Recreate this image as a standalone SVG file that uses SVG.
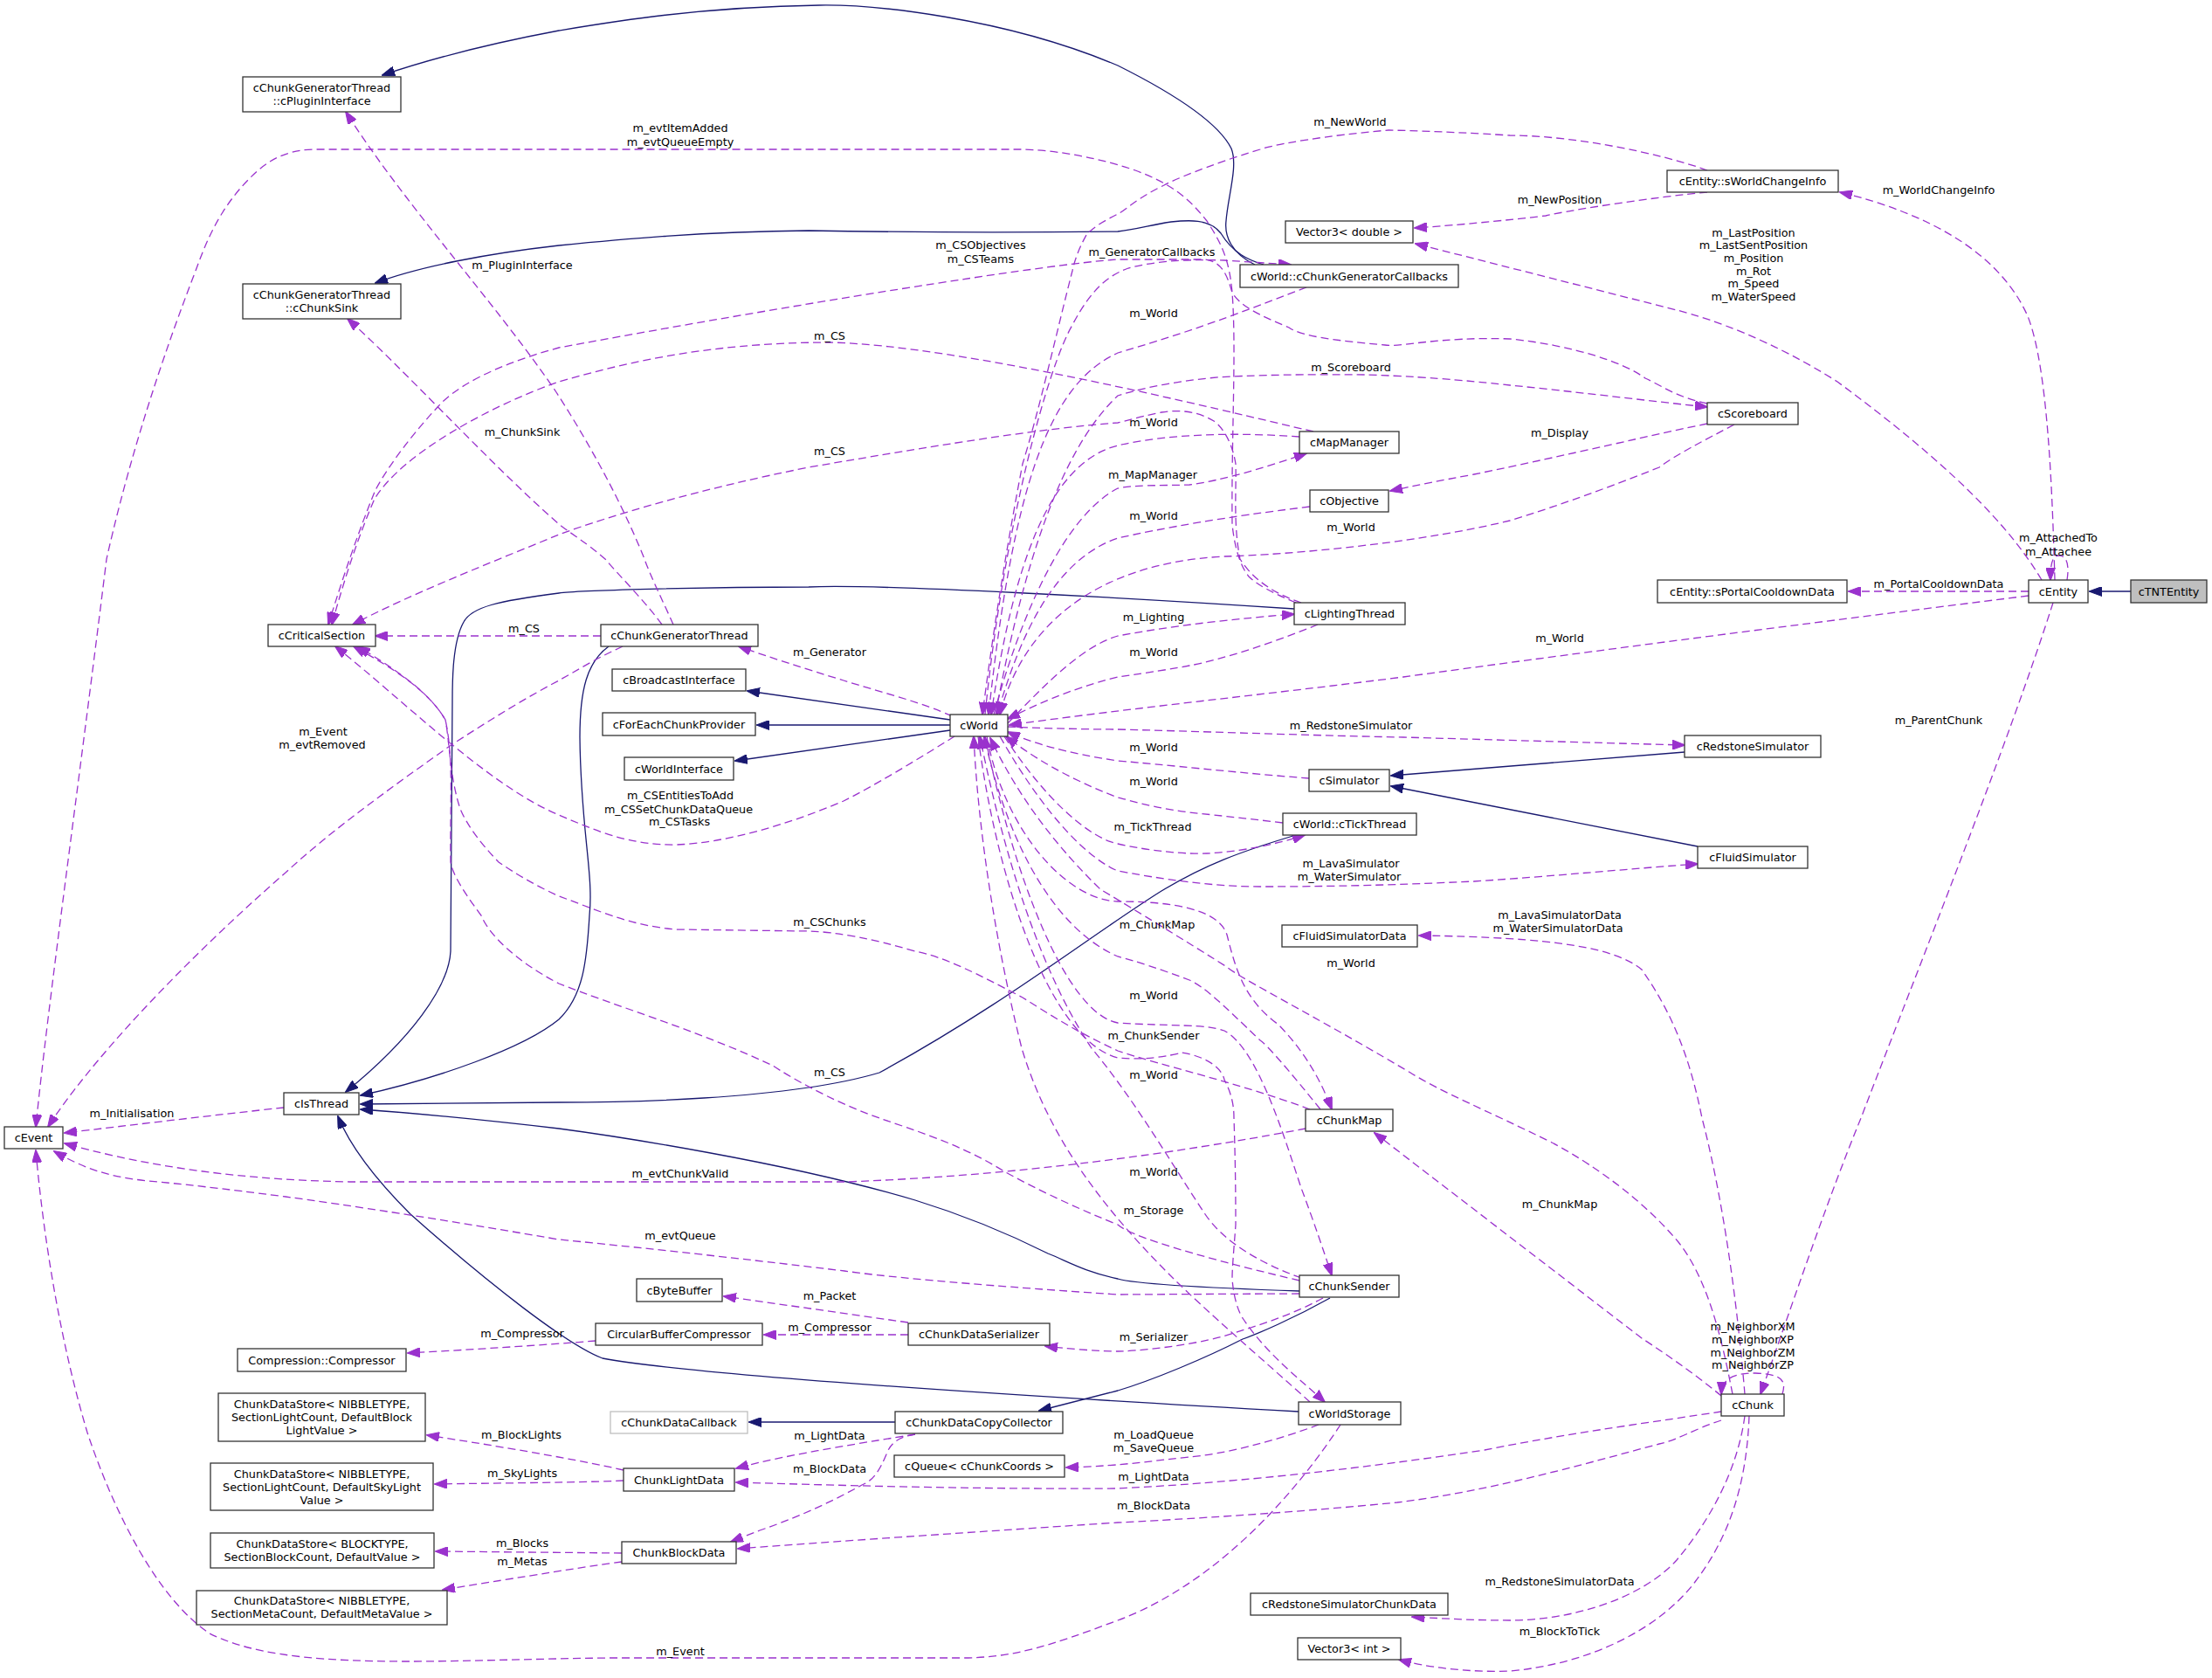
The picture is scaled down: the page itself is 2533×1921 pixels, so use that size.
<svg xmlns="http://www.w3.org/2000/svg" width="2533" height="1921" viewBox="0 0 2533 1921">
<style>
text{font-family:"DejaVu Sans","Liberation Sans",sans-serif;font-size:12.8px;fill:#000;text-anchor:middle}
.n rect{fill:#fff;stroke:#333;stroke-width:1.3}
.g rect{fill:#bfbfbf;stroke:#333;stroke-width:1.3}
.lg rect{fill:#fff;stroke:#bfbfbf;stroke-width:1.3}
.e{fill:none;stroke:#9a32cd;stroke-width:1.3;stroke-dasharray:9,5;marker-end:url(#ap)}
.i{fill:none;stroke:#191970;stroke-width:1.3;marker-end:url(#an)}
</style>
<defs>
<marker id="ap" viewBox="0 0 15 11" refX="14" refY="5.5" markerWidth="15" markerHeight="11" markerUnits="userSpaceOnUse" orient="auto"><path d="M0,0L15,5.5L0,11z" fill="#9a32cd" stroke="#9a32cd"/></marker>
<marker id="an" viewBox="0 0 15 11" refX="14" refY="5.5" markerWidth="15" markerHeight="11" markerUnits="userSpaceOnUse" orient="auto"><path d="M0,0L15,5.5L0,11z" fill="#191970" stroke="#191970"/></marker>
</defs>
<rect width="2533" height="1921" fill="#fff"/>
<g id="edges">
<path class="i" d="M2440,677L2393,677"/>
<path class="i" d="M1437,303C1410,290 1402,270 1404,253C1406,225 1418,190 1410,170C1395,140 1340,105 1280,75C1150,20 1000,5 938,6C800,8 700,25 640,35C560,50 500,65 438,86"/>
<path class="i" d="M1447,303C1430,298 1412,290 1398,267C1385,250 1360,252 1341,254C1320,257 1300,263 1280,265C1100,267 926,264 926,264C800,265 700,275 640,281C560,290 480,305 430,324"/>
<path class="i" d="M1482,697C1300,685 1000,668 926,672C800,672 660,676 640,679C570,688 540,695 531,712C518,735 518,780 518,803L516,1089C514,1130 470,1190 396,1250"/>
<path class="i" d="M697,740C672,758 664,790 664,844C665,950 680,1000 675,1048C672,1100 668,1140 640,1167C600,1200 500,1235 413,1254"/>
<path class="i" d="M1484,956C1420,975 1380,990 1330,1020C1250,1070 1150,1150 1007,1228C900,1260 700,1262 640,1262L413,1264"/>
<path class="i" d="M1488,1478C1400,1475 1300,1470 1280,1464C1240,1455 1225,1445 1200,1435C1150,1410 1100,1390 1048,1374C900,1330 700,1300 640,1292C580,1285 500,1276 413,1270"/>
<path class="i" d="M1487,1616C1200,1600 800,1575 690,1555C650,1540 560,1470 470,1390C430,1350 400,1310 387,1278"/>
<path class="i" d="M1088,824L856,791"/>
<path class="i" d="M1088,830L867,830"/>
<path class="i" d="M1088,836L842,871"/>
<path class="i" d="M1929,861L1593,888"/>
<path class="i" d="M1944,969L1593,900"/>
<path class="i" d="M1523,1486C1480,1510 1440,1527 1423,1533C1380,1555 1320,1580 1280,1592L1190,1615"/>
<path class="i" d="M1025,1628L858,1628"/>

<path class="e" d="M2353,664C2350,560 2345,420 2322,362C2290,290 2210,245 2107,220"/>
<path class="e" d="M2338,664C2300,600 2230,530 2104,437C2030,390 1960,365 1920,355L1621,279"/>
<path class="e" d="M2367,664C2370,645 2366,636 2358,636C2350,636 2348,645 2348,664"/>
<path class="e" d="M2323,677L2117,677"/>
<path class="e" d="M2323,682C2100,710 1900,735 1607,775C1450,795 1300,810 1156,830"/>
<path class="e" d="M2351,690C2300,850 2200,1100 2131,1280C2090,1380 2047,1509 2016,1596"/>
<path class="e" d="M2041,1596C2046,1580 2040,1573 2010,1572C1985,1572 1972,1578 1971,1596"/>
<path class="e" d="M1971,1598C1940,1572 1900,1545 1880,1532L1574,1297"/>
<path class="e" d="M1971,1616C1900,1627 1800,1640 1700,1660C1500,1690 1362,1700 1280,1704C1100,1705 950,1700 843,1697"/>
<path class="e" d="M1971,1626C1940,1636 1920,1649 1900,1653C1800,1680 1700,1708 1600,1720C1450,1735 1280,1743 1280,1743C1100,1755 950,1765 845,1773"/>
<path class="e" d="M1998,1621C1990,1680 1961,1737 1920,1786C1880,1830 1800,1855 1729,1855C1680,1855 1640,1852 1617,1851"/>
<path class="e" d="M2003,1621C2000,1700 1980,1760 1941,1811C1900,1865 1820,1905 1729,1913C1680,1915 1630,1908 1602,1900"/>
<path class="e" d="M1998,1596C1990,1500 1975,1380 1949,1280C1935,1210 1915,1160 1880,1110C1850,1085 1780,1073 1625,1071"/>
<path class="e" d="M1984,1596C1975,1551 1960,1470 1922,1422C1870,1360 1800,1320 1777,1308C1700,1270 1650,1250 1615,1228C1500,1160 1420,1120 1405,1107C1330,1060 1280,1030 1260,1018C1200,960 1160,900 1134,845"/>
<path class="e" d="M1510,1631C1460,1650 1400,1665 1362,1668C1320,1672 1290,1678 1221,1680"/>
<path class="e" d="M1535,1631C1490,1700 1400,1810 1280,1855C1200,1885 1160,1898 1100,1898L700,1898C500,1900 330,1915 240,1870C180,1830 130,1730 100,1640C70,1540 50,1420 41,1317"/>
<path class="e" d="M712,1778L499,1776"/>
<path class="e" d="M712,1788C680,1792 600,1805 507,1820"/>
<path class="e" d="M714,1683C680,1675 600,1660 489,1643"/>
<path class="e" d="M714,1695C680,1697 560,1698 498,1699"/>
<path class="e" d="M1048,1642C1000,1650 900,1665 843,1681"/>
<path class="e" d="M1048,1642C1030,1645 1020,1651 1015,1665C1007,1684 1000,1695 987,1700C960,1715 920,1735 870,1752L837,1765"/>
<path class="e" d="M1515,1486C1480,1505 1443,1517 1400,1530C1360,1541 1300,1547 1280,1547C1260,1547 1220,1544 1197,1541"/>
<path class="e" d="M1040,1528L875,1528"/>
<path class="e" d="M1040,1514L829,1484"/>
<path class="e" d="M682,1535C620,1540 540,1545 467,1549"/>
<path class="e" d="M1495,1292C1400,1310 1200,1345 967,1353L400,1353C250,1350 150,1330 74,1309"/>
<path class="e" d="M1488,1481L1280,1482C1100,1470 1000,1460 967,1455C800,1435 700,1425 640,1419C500,1395 400,1380 327,1370C250,1360 204,1355 170,1352C130,1348 100,1340 62,1318"/>
<path class="e" d="M325,1268C250,1276 150,1288 74,1297"/>
<path class="e" d="M713,740C680,755 660,768 640,779C600,800 560,825 518,852C450,900 380,950 327,999C200,1110 100,1220 55,1290"/>
<path class="e" d="M1484,690C1460,680 1440,670 1430,660C1418,645 1413,620 1411,600C1410,500 1416,400 1411,335C1408,300 1400,280 1382,253C1360,225 1340,210 1300,195C1250,178 1200,171 1166,171L359,171C320,172 300,190 286,204C250,240 235,280 224,310C170,450 140,560 122,640C90,900 55,1150 41,1290"/>
<path class="e" d="M1490,690C1460,680 1435,664 1420,640C1412,600 1416,560 1415,531C1410,500 1395,485 1390,482C1370,470 1349,469 1330,472C1300,478 1290,482 1280,484C1200,490 1100,505 926,535C800,560 700,590 640,612C560,645 470,680 404,715"/>
<path class="e" d="M1504,494C1400,470 1100,395 950,392C800,392 700,420 640,437C560,465 460,520 429,571C412,610 395,660 380,715"/>
<path class="e" d="M1955,462C1920,455 1900,440 1884,433C1860,415 1800,395 1729,388C1650,385 1600,398 1586,395C1530,390 1490,385 1476,375C1440,360 1420,350 1411,335C1405,315 1400,300 1380,297L1280,297C1200,302 900,350 640,398C560,420 520,445 502,465C460,510 435,550 429,563C410,610 393,660 376,715"/>
<path class="e" d="M1140,818C1180,600 1230,500 1280,453C1320,440 1380,432 1411,431C1480,428 1530,429 1566,429C1650,432 1700,438 1729,441C1800,448 1880,458 1955,466"/>
<path class="e" d="M1955,485C1900,496 1800,520 1688,543C1650,550 1620,556 1592,562"/>
<path class="e" d="M1986,486C1950,505 1920,520 1900,535C1800,575 1729,596 1729,596C1650,615 1566,624 1566,624C1500,632 1440,636 1402,637C1250,645 1170,720 1145,818"/>
<path class="e" d="M1955,195C1900,175 1800,155 1729,155C1650,150 1590,149 1590,149C1520,155 1460,165 1443,171C1380,190 1340,208 1333,212C1300,228 1290,240 1280,245C1260,255 1250,262 1244,269C1235,285 1230,300 1228,310C1210,380 1190,470 1171,531C1150,640 1135,740 1125,818"/>
<path class="e" d="M1955,220C1900,225 1800,240 1770,247C1700,255 1650,259 1620,261"/>
<path class="e" d="M1128,818C1150,600 1200,420 1228,372C1250,330 1270,315 1292,307C1330,297 1370,297 1402,298C1430,300 1450,301 1478,303"/>
<path class="e" d="M1496,329C1440,350 1380,375 1280,404C1200,440 1160,560 1132,818"/>
<path class="e" d="M1138,818C1170,700 1220,590 1280,559C1300,555 1330,556 1362,555C1400,550 1450,535 1496,519"/>
<path class="e" d="M1488,500C1420,495 1340,496 1280,510C1200,530 1160,650 1135,818"/>
<path class="e" d="M1500,580C1400,592 1330,605 1280,616C1210,640 1170,720 1142,818"/>
<path class="e" d="M1154,828C1200,780 1240,740 1280,728C1350,715 1420,708 1482,703"/>
<path class="e" d="M1509,715C1460,735 1400,755 1362,762C1330,768 1300,772 1280,775C1220,790 1180,810 1154,823"/>
<path class="e" d="M1154,832C1200,834 1250,835 1280,835C1400,838 1500,842 1607,844C1750,848 1850,851 1929,853"/>
<path class="e" d="M1499,891C1420,885 1330,875 1280,871C1220,862 1180,850 1154,838"/>
<path class="e" d="M1469,942C1420,936 1380,932 1362,930C1320,925 1290,915 1280,913C1220,890 1180,865 1152,843"/>
<path class="e" d="M1150,843C1200,920 1250,960 1280,966C1320,975 1360,978 1382,977C1420,975 1460,967 1494,956"/>
<path class="e" d="M1145,843C1200,940 1250,985 1280,997C1350,1010 1400,1015 1443,1015C1550,1015 1620,1012 1688,1009C1780,1003 1860,995 1944,989"/>
<path class="e" d="M1130,843C1150,950 1220,1030 1280,1032C1340,1032 1395,1040 1405,1070C1415,1110 1425,1145 1464,1173C1490,1200 1510,1230 1525,1270"/>
<path class="e" d="M1512,1270C1480,1230 1450,1195 1443,1191C1400,1150 1380,1130 1362,1122C1330,1110 1300,1100 1280,1095C1200,1060 1150,950 1127,843"/>
<path class="e" d="M1128,843C1160,1000 1220,1160 1280,1171C1340,1175 1380,1172 1402,1180C1440,1200 1470,1300 1490,1360C1505,1400 1515,1430 1525,1460"/>
<path class="e" d="M1490,1463C1440,1445 1400,1420 1380,1390C1340,1330 1300,1260 1250,1200C1190,1110 1150,980 1122,843"/>
<path class="e" d="M1120,843C1140,1000 1200,1190 1280,1211C1320,1215 1353,1205 1353,1205C1385,1210 1400,1225 1402,1236C1412,1255 1413,1270 1413,1280C1415,1340 1415,1380 1415,1402C1413,1430 1411,1450 1411,1464C1413,1490 1420,1505 1423,1509C1450,1550 1490,1580 1517,1605"/>
<path class="e" d="M1500,1605C1450,1560 1380,1500 1340,1460C1260,1380 1200,1300 1170,1200C1140,1080 1120,950 1115,843"/>
<path class="e" d="M1488,1466C1420,1450 1300,1420 1280,1402C1200,1370 1150,1341 1150,1341C1100,1310 1050,1295 1007,1280C950,1260 900,1230 885,1220C800,1180 700,1150 640,1126C590,1100 560,1070 551,1048C530,1020 518,1000 516,987C515,920 520,870 510,824C490,790 450,765 410,740"/>
<path class="e" d="M1500,1270C1420,1240 1330,1220 1280,1203C1230,1180 1200,1160 1171,1142C1120,1115 1080,1095 1048,1089C1000,1075 960,1067 926,1066L775,1064C720,1060 680,1040 640,1026C610,1012 590,1000 571,987C550,965 535,945 527,926C515,890 515,850 510,824C490,790 450,765 405,740"/>
<path class="e" d="M1093,843C1050,870 1000,900 966,917C900,945 830,965 775,967C720,968 680,950 640,933C560,900 460,800 384,740"/>
<path class="e" d="M1090,820C1060,805 1000,790 966,779C920,765 880,752 846,740"/>
<path class="e" d="M758,715C740,690 710,660 693,640C670,620 655,612 640,600C560,530 460,420 398,365"/>
<path class="e" d="M771,715C760,690 745,660 738,640C710,570 670,500 637,449C570,350 460,230 396,128"/>
<path class="e" d="M688,728L430,728"/>

<text x="779" y="151">m_evtItemAdded</text>
<text x="779" y="167">m_evtQueueEmpty</text>
<text x="598" y="308">m_PluginInterface</text>
<text x="598" y="499">m_ChunkSink</text>
<text x="1123" y="285">m_CSObjectives</text>
<text x="1123" y="301">m_CSTeams</text>
<text x="1319" y="293">m_GeneratorCallbacks</text>
<text x="950" y="389">m_CS</text>
<text x="950" y="521">m_CS</text>
<text x="1546" y="144">m_NewWorld</text>
<text x="1786" y="233">m_NewPosition</text>
<text x="1321" y="363">m_World</text>
<text x="1547" y="425">m_Scoreboard</text>
<text x="1321" y="488">m_World</text>
<text x="1320" y="548">m_MapManager</text>
<text x="1786" y="500">m_Display</text>
<text x="1321" y="595">m_World</text>
<text x="1547" y="608">m_World</text>
<text x="2220" y="222">m_WorldChangeInfo</text>
<text x="2008" y="271">m_LastPosition</text>
<text x="2008" y="285">m_LastSentPosition</text>
<text x="2008" y="300">m_Position</text>
<text x="2008" y="315">m_Rot</text>
<text x="2008" y="329">m_Speed</text>
<text x="2008" y="344">m_WaterSpeed</text>
<text x="2357" y="620">m_AttachedTo</text>
<text x="2357" y="636">m_Attachee</text>
<text x="600" y="724">m_CS</text>
<text x="370" y="842">m_Event</text>
<text x="369" y="857">m_evtRemoved</text>
<text x="151" y="1279">m_Initialisation</text>
<text x="950" y="751">m_Generator</text>
<text x="779" y="915">m_CSEntitiesToAdd</text>
<text x="777" y="931">m_CSSetChunkDataQueue</text>
<text x="778" y="945">m_CSTasks</text>
<text x="950" y="1060">m_CSChunks</text>
<text x="950" y="1232">m_CS</text>
<text x="1321" y="711">m_Lighting</text>
<text x="1321" y="751">m_World</text>
<text x="1786" y="735">m_World</text>
<text x="1547" y="835">m_RedstoneSimulator</text>
<text x="1321" y="860">m_World</text>
<text x="1321" y="899">m_World</text>
<text x="1320" y="951">m_TickThread</text>
<text x="1547" y="993">m_LavaSimulator</text>
<text x="1545" y="1008">m_WaterSimulator</text>
<text x="1325" y="1063">m_ChunkMap</text>
<text x="1786" y="1052">m_LavaSimulatorData</text>
<text x="1784" y="1067">m_WaterSimulatorData</text>
<text x="1547" y="1107">m_World</text>
<text x="1321" y="1144">m_World</text>
<text x="1321" y="1190">m_ChunkSender</text>
<text x="1321" y="1235">m_World</text>
<text x="2220" y="673">m_PortalCooldownData</text>
<text x="2220" y="829">m_ParentChunk</text>
<text x="779" y="1348">m_evtChunkValid</text>
<text x="779" y="1419">m_evtQueue</text>
<text x="950" y="1488">m_Packet</text>
<text x="950" y="1524">m_Compressor</text>
<text x="598" y="1531">m_Compressor</text>
<text x="950" y="1648">m_LightData</text>
<text x="950" y="1686">m_BlockData</text>
<text x="779" y="1895">m_Event</text>
<text x="597" y="1647">m_BlockLights</text>
<text x="598" y="1691">m_SkyLights</text>
<text x="598" y="1771">m_Blocks</text>
<text x="598" y="1792">m_Metas</text>
<text x="1321" y="1346">m_World</text>
<text x="1321" y="1390">m_Storage</text>
<text x="1786" y="1383">m_ChunkMap</text>
<text x="1321" y="1535">m_Serializer</text>
<text x="1321" y="1647">m_LoadQueue</text>
<text x="1321" y="1662">m_SaveQueue</text>
<text x="1321" y="1695">m_LightData</text>
<text x="1321" y="1728">m_BlockData</text>
<text x="1786" y="1815">m_RedstoneSimulatorData</text>
<text x="1786" y="1872">m_BlockToTick</text>
<text x="2007" y="1523">m_NeighborXM</text>
<text x="2007" y="1538">m_NeighborXP</text>
<text x="2007" y="1553">m_NeighborZM</text>
<text x="2007" y="1567">m_NeighborZP</text>
</g>

<g id="n_cTNTEntity" class="g"><rect x="2440" y="664" width="87" height="26"/><text x="2483.5" y="681.5">cTNTEntity</text></g>
<g id="n_cEntity" class="n"><rect x="2323" y="664" width="68" height="26"/><text x="2357" y="681.5">cEntity</text></g>
<g id="n_sWorldChangeInfo" class="n"><rect x="1909" y="195" width="196" height="25"/><text x="2007" y="212">cEntity::sWorldChangeInfo</text></g>
<g id="n_Vector3double" class="n"><rect x="1472" y="253" width="146" height="25"/><text x="1545" y="270">Vector3&lt; double &gt;</text></g>
<g id="n_cChunkGeneratorCallbacks" class="n"><rect x="1420" y="303" width="250" height="26"/><text x="1545" y="320.5">cWorld::cChunkGeneratorCallbacks</text></g>
<g id="n_cPluginInterface" class="n"><rect x="278" y="88" width="181" height="40"/><text x="368.5" y="105">cChunkGeneratorThread</text><text x="368.5" y="120">::cPluginInterface</text></g>
<g id="n_cChunkSink" class="n"><rect x="278" y="325" width="181" height="40"/><text x="368.5" y="342">cChunkGeneratorThread</text><text x="368.5" y="357">::cChunkSink</text></g>
<g id="n_cScoreboard" class="n"><rect x="1955" y="461" width="104" height="25"/><text x="2007" y="478">cScoreboard</text></g>
<g id="n_cMapManager" class="n"><rect x="1488" y="494" width="114" height="25"/><text x="1545" y="511">cMapManager</text></g>
<g id="n_cObjective" class="n"><rect x="1500" y="561" width="90" height="25"/><text x="1545" y="578">cObjective</text></g>
<g id="n_cLightingThread" class="n"><rect x="1482" y="690" width="127" height="25"/><text x="1545.5" y="707">cLightingThread</text></g>
<g id="n_sPortalCooldownData" class="n"><rect x="1898" y="664" width="217" height="26"/><text x="2006.5" y="681.5">cEntity::sPortalCooldownData</text></g>
<g id="n_cCriticalSection" class="n"><rect x="307" y="715" width="123" height="25"/><text x="368.5" y="732">cCriticalSection</text></g>
<g id="n_cChunkGeneratorThread" class="n"><rect x="688" y="715" width="180" height="25"/><text x="778" y="732">cChunkGeneratorThread</text></g>
<g id="n_cBroadcastInterface" class="n"><rect x="701" y="766" width="153" height="25"/><text x="777.5" y="783">cBroadcastInterface</text></g>
<g id="n_cForEachChunkProvider" class="n"><rect x="690" y="816" width="175" height="26"/><text x="777.5" y="833.5">cForEachChunkProvider</text></g>
<g id="n_cWorldInterface" class="n"><rect x="715" y="867" width="125" height="26"/><text x="777.5" y="884.5">cWorldInterface</text></g>
<g id="n_cWorld" class="n"><rect x="1088" y="818" width="66" height="25"/><text x="1121" y="835">cWorld</text></g>
<g id="n_cRedstoneSimulator" class="n"><rect x="1929" y="842" width="156" height="25"/><text x="2007" y="859">cRedstoneSimulator</text></g>
<g id="n_cSimulator" class="n"><rect x="1499" y="881" width="92" height="25"/><text x="1545" y="898">cSimulator</text></g>
<g id="n_cTickThread" class="n"><rect x="1469" y="931" width="153" height="25"/><text x="1545.5" y="948">cWorld::cTickThread</text></g>
<g id="n_cFluidSimulator" class="n"><rect x="1944" y="969" width="126" height="25"/><text x="2007" y="986">cFluidSimulator</text></g>
<g id="n_cFluidSimulatorData" class="n"><rect x="1468" y="1059" width="155" height="25"/><text x="1545.5" y="1076">cFluidSimulatorData</text></g>
<g id="n_cChunkMap" class="n"><rect x="1495" y="1270" width="100" height="25"/><text x="1545" y="1287">cChunkMap</text></g>
<g id="n_cIsThread" class="n"><rect x="325" y="1251" width="86" height="25"/><text x="368" y="1268">cIsThread</text></g>
<g id="n_cEvent" class="n"><rect x="5" y="1290" width="67" height="25"/><text x="38.5" y="1307">cEvent</text></g>
<g id="n_cChunkSender" class="n"><rect x="1488" y="1460" width="114" height="25"/><text x="1545" y="1477">cChunkSender</text></g>
<g id="n_cByteBuffer" class="n"><rect x="729" y="1464" width="98" height="26"/><text x="778" y="1481.5">cByteBuffer</text></g>
<g id="n_CircularBufferCompressor" class="n"><rect x="682" y="1515" width="191" height="25"/><text x="777.5" y="1532">CircularBufferCompressor</text></g>
<g id="n_cChunkDataSerializer" class="n"><rect x="1040" y="1515" width="162" height="25"/><text x="1121" y="1532">cChunkDataSerializer</text></g>
<g id="n_Compressor" class="n"><rect x="272" y="1544" width="193" height="26"/><text x="368.5" y="1561.5">Compression::Compressor</text></g>
<g id="n_CDS_BlockLight" class="n"><rect x="250" y="1595" width="237" height="55"/><text x="368.5" y="1612">ChunkDataStore&lt; NIBBLETYPE,</text><text x="368.5" y="1627">SectionLightCount, DefaultBlock</text><text x="368.5" y="1642">LightValue &gt;</text></g>
<g id="n_cChunkDataCallback" class="lg"><rect x="699" y="1616" width="157" height="25"/><text x="777.5" y="1633">cChunkDataCallback</text></g>
<g id="n_cChunkDataCopyCollector" class="n"><rect x="1025" y="1616" width="192" height="25"/><text x="1121" y="1633">cChunkDataCopyCollector</text></g>
<g id="n_cWorldStorage" class="n"><rect x="1487" y="1605" width="117" height="26"/><text x="1545.5" y="1622.5">cWorldStorage</text></g>
<g id="n_cQueue" class="n"><rect x="1024" y="1666" width="195" height="25"/><text x="1121.5" y="1683">cQueue&lt; cChunkCoords &gt;</text></g>
<g id="n_ChunkLightData" class="n"><rect x="714" y="1681" width="127" height="26"/><text x="777.5" y="1698.5">ChunkLightData</text></g>
<g id="n_CDS_SkyLight" class="n"><rect x="241" y="1675" width="255" height="54"/><text x="368.5" y="1691.5">ChunkDataStore&lt; NIBBLETYPE,</text><text x="368.5" y="1706.5">SectionLightCount, DefaultSkyLight</text><text x="368.5" y="1721.5">Value &gt;</text></g>
<g id="n_ChunkBlockData" class="n"><rect x="712" y="1765" width="131" height="25"/><text x="777.5" y="1782">ChunkBlockData</text></g>
<g id="n_CDS_Block" class="n"><rect x="241" y="1755" width="256" height="40"/><text x="369" y="1771.5">ChunkDataStore&lt; BLOCKTYPE,</text><text x="369" y="1786.5">SectionBlockCount, DefaultValue &gt;</text></g>
<g id="n_CDS_Meta" class="n"><rect x="225" y="1821" width="287" height="39"/><text x="368.5" y="1837">ChunkDataStore&lt; NIBBLETYPE,</text><text x="368.5" y="1852">SectionMetaCount, DefaultMetaValue &gt;</text></g>
<g id="n_cChunk" class="n"><rect x="1971" y="1596" width="72" height="25"/><text x="2007" y="1613">cChunk</text></g>
<g id="n_cRedstoneSimulatorChunkData" class="n"><rect x="1432" y="1824" width="226" height="25"/><text x="1545" y="1841">cRedstoneSimulatorChunkData</text></g>
<g id="n_Vector3int" class="n"><rect x="1486" y="1875" width="118" height="25"/><text x="1545" y="1892">Vector3&lt; int &gt;</text></g>
</svg>
